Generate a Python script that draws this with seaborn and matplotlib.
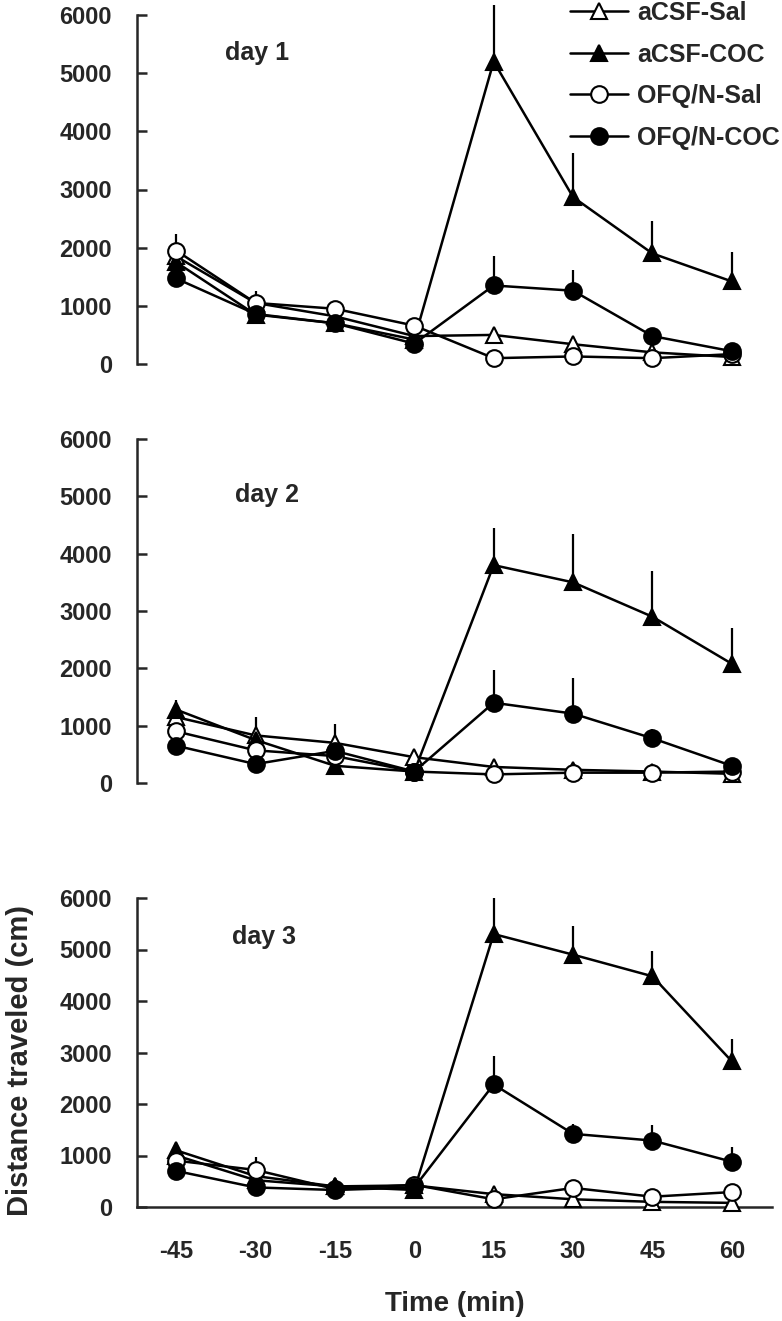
import matplotlib
matplotlib.use('Agg')
import matplotlib.pyplot as plt
import seaborn as sns

# time points (min)
times = [-45, -30, -15, 0, 15, 30, 45, 60]
xticklabels = ['-45', '-30', '-15', '0', '15', '30', '45', '60']
yticks = [0, 1000, 2000, 3000, 4000, 5000, 6000]

# day 1
acsf_sal_d1 = [1850, 1050, 820, 480, 500, 340, 200, 120]
acsf_coc_d1 = [1750, 850, 700, 420, 5200, 2870, 1900, 1420]
ofq_sal_d1 = [1950, 1050, 950, 660, 100, 130, 100, 170]
ofq_coc_d1 = [1470, 860, 700, 350, 1350, 1260, 480, 220]
acsf_sal_err_d1 = [0, 0, 0, 0, 0, 0, 0, 0]
acsf_coc_err_d1 = [0, 0, 0, 0, 970, 750, 550, 500]
ofq_sal_err_d1 = [280, 200, 0, 0, 0, 0, 0, 0]
ofq_coc_err_d1 = [0, 0, 0, 0, 500, 360, 0, 0]

# day 2
acsf_sal_d2 = [1150, 830, 700, 450, 280, 230, 200, 160]
acsf_coc_d2 = [1280, 750, 300, 200, 3800, 3500, 2900, 2080]
ofq_sal_d2 = [900, 570, 470, 200, 150, 180, 180, 200]
ofq_coc_d2 = [650, 330, 560, 200, 1400, 1210, 780, 300]
acsf_sal_err_d2 = [0, 320, 330, 0, 0, 0, 0, 0]
acsf_coc_err_d2 = [170, 0, 0, 0, 650, 850, 800, 620]
ofq_sal_err_d2 = [0, 0, 0, 0, 0, 0, 0, 0]
ofq_coc_err_d2 = [0, 0, 0, 0, 570, 620, 170, 0]

# day 3
acsf_sal_d3 = [1000, 520, 400, 420, 250, 150, 100, 80]
acsf_coc_d3 = [1100, 600, 400, 330, 5300, 4900, 4480, 2830]
ofq_sal_d3 = [900, 720, 350, 430, 150, 370, 200, 290]
ofq_coc_d3 = [700, 380, 330, 380, 2380, 1420, 1290, 880]
acsf_sal_err_d3 = [0, 0, 0, 0, 0, 0, 0, 0]
acsf_coc_err_d3 = [0, 0, 0, 0, 700, 560, 500, 430]
ofq_sal_err_d3 = [0, 260, 0, 0, 0, 0, 0, 0]
ofq_coc_err_d3 = [0, 0, 0, 0, 560, 200, 300, 280]

groups = ['aCSF-Sal', 'aCSF-COC', 'OFQ/N-Sal', 'OFQ/N-COC']
markers = ['^', '^', 'o', 'o']
faces = ['white', 'black', 'white', 'black']

days = [
    ('day 1', [acsf_sal_d1, acsf_coc_d1, ofq_sal_d1, ofq_coc_d1],
     [acsf_sal_err_d1, acsf_coc_err_d1, ofq_sal_err_d1, ofq_coc_err_d1]),
    ('day 2', [acsf_sal_d2, acsf_coc_d2, ofq_sal_d2, ofq_coc_d2],
     [acsf_sal_err_d2, acsf_coc_err_d2, ofq_sal_err_d2, ofq_coc_err_d2]),
    ('day 3', [acsf_sal_d3, acsf_coc_d3, ofq_sal_d3, ofq_coc_d3],
     [acsf_sal_err_d3, acsf_coc_err_d3, ofq_sal_err_d3, ofq_coc_err_d3]),
]

sns.set_style('ticks')
plt.rcParams['font.family'] = ['Liberation Sans', 'DejaVu Sans']
plt.rcParams['font.weight'] = 'bold'

W, H = 782, 1321
fig = plt.figure(figsize=(W / 100, H / 100), dpi=100)

# axes boxes in pixels: (y of 6000, y of 0)
boxes = [(15, 364), (439, 783), (898, 1207)]
left, right = 137, 772
label_pos = [(0.139, 0.891), (0.154, 0.837), (0.150, 0.874)]

for i, ((title, series, errs), (top, bot)) in enumerate(zip(days, boxes)):
    ax = fig.add_axes([left / W, 1 - bot / H, (right - left) / W, (bot - top) / H])
    for name, vals, err, mk, fc in zip(groups, series, errs, markers, faces):
        top_vals = [v + e for v, e in zip(vals, err)]
        ax.vlines(times, vals, top_vals, color='black', lw=1.6, zorder=2, clip_on=False)
        sns.lineplot(x=times, y=vals, ax=ax, color='black', lw=1.8,
                     marker=mk, markersize=12, markerfacecolor=fc,
                     markeredgecolor='black', markeredgewidth=1.5,
                     label=name, legend=False, clip_on=False, zorder=3)
    ax.set_xlim(-52.4, 67.6)
    ax.set_ylim(0, 6000)
    ax.set_yticks(yticks)
    ax.tick_params(axis='y', direction='in', length=7, width=1.8, pad=18, labelsize=17)
    for lab in ax.get_yticklabels():
        lab.set_fontweight('bold')
    ax.spines['top'].set_visible(False)
    ax.spines['right'].set_visible(False)
    ax.spines['left'].set_linewidth(1.8)
    ax.set_xlabel('')
    ax.set_ylabel('')
    ax.text(label_pos[i][0], label_pos[i][1], title, transform=ax.transAxes,
            fontsize=18, fontweight='bold', va='center', ha='left')
    if i < 2:
        ax.spines['bottom'].set_visible(False)
        ax.set_xticks([])
    else:
        ax.spines['bottom'].set_linewidth(1.8)
        ax.set_xticks(times)
        ax.set_xticklabels(xticklabels)
        ax.tick_params(axis='x', length=0, pad=24, labelsize=17)
        for lab in ax.get_xticklabels():
            lab.set_fontweight('bold')
        ax.set_xlabel('Time (min)', fontsize=20, fontweight='bold', labelpad=20)
    if i == 0:
        handles, labels = ax.get_legend_handles_labels()
        fig.legend(handles, labels, loc='upper left',
                   bbox_to_anchor=(570 / W, 1 - 1 / H), frameon=False,
                   handlelength=2.3, handletextpad=0.4,
                   labelspacing=0.7, borderpad=0, borderaxespad=0,
                   prop={'weight': 'bold', 'size': 18})

fig.text(20 / W, 1 - 1060 / H, 'Distance traveled (cm)', rotation=90,
         fontsize=21, fontweight='bold', ha='center', va='center')

fig.savefig('out.png', dpi=100)
